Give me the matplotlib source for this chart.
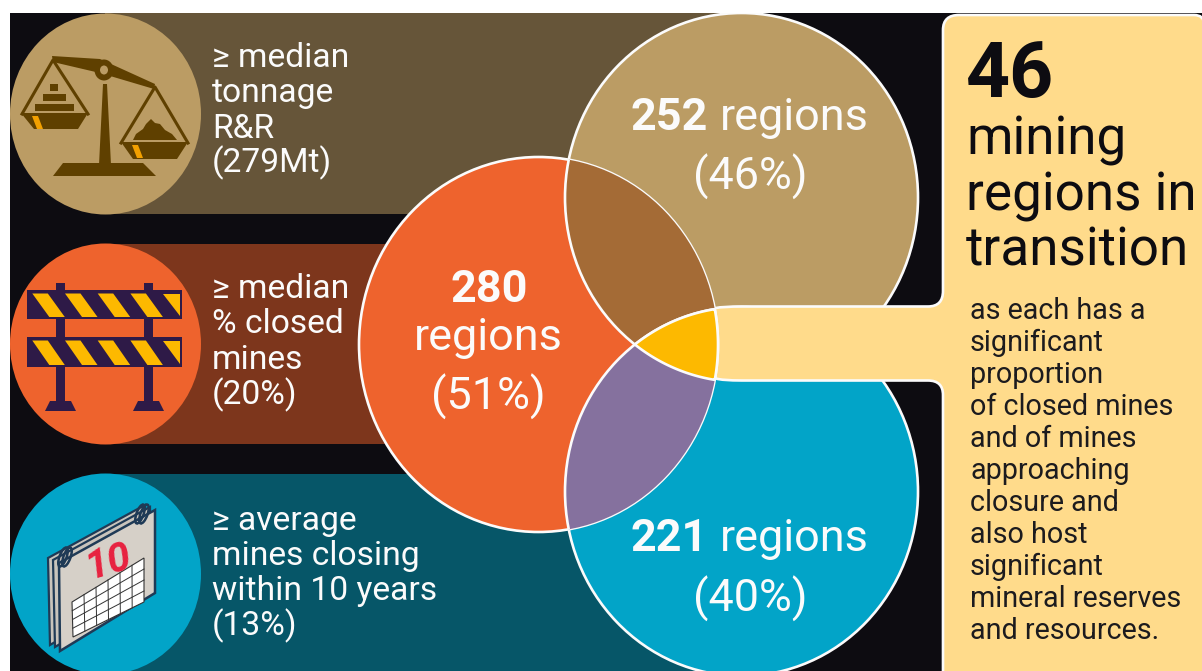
import numpy as np
import matplotlib
matplotlib.use("Agg")
import matplotlib.pyplot as plt
from matplotlib.patches import Ellipse, Rectangle, Polygon, PathPatch
from matplotlib.path import Path

# ---- data ----
criteria = [["≥ median", "tonnage", "R&R", "(279Mt)"],
            ["≥ median", "% closed", "mines", "(20%)"],
            ["≥ average", "mines closing", "within 10 years", "(13%)"]]
region_counts = [252, 280, 221]
region_shares = [46, 51, 40]
transition_count = 46
headline = ["mining", "regions in", "transition"]
body = ["as each has a", "significant", "proportion", "of closed mines", "and of mines",
        "approaching", "closure and", "also host", "significant", "mineral reserves",
        "and resources."]

# ---- colours ----
BLACK = "#0d0c11"; TAN = "#bb9c64"; ORANGE = "#ee632d"; BLUE = "#02a4c8"
D_TAN = "#665539"; D_ORANGE = "#7d361c"; D_BLUE = "#065668"
BROWN = "#a46b36"; PURPLE = "#85719e"; YELLOW = "#fdb900"; CREAM = "#ffdb8b"
ICON1 = "#5f4000"; ICON2 = "#2e1a47"; CAL = "#1f3a56"; WHITE = "#fbfbfb"

plt.rcParams["font.family"] = ["Roboto", "DejaVu Sans"]
fig = plt.figure(figsize=(12.02, 6.71), dpi=100, facecolor="white")
ax = fig.add_axes([0, 0, 1, 1])
ax.set_xlim(0, 1202); ax.set_ylim(671, 0); ax.axis("off")
PT = 0.72

ax.add_patch(Rectangle((10, 13), 1192, 658, fc=BLACK, ec="none", zorder=0))
for y0, h, x1, c in [(13, 201, 741, D_TAN), (244, 200, 538, D_ORANGE), (474, 200, 741, D_BLUE)]:
    ax.add_patch(Rectangle((105, y0), x1 - 105, h, fc=c, ec="none", zorder=1))
for cy, c in [(114, TAN), (344, ORANGE), (574, BLUE)]:
    ax.add_patch(Ellipse((105.5, cy), 191, 201, fc=c, ec="none", zorder=2))

# ---- icon: scale ----
def poly(pts, c, z=3, **k):
    ax.add_patch(Polygon(pts, closed=True, fc=c, ec=k.get("ec", "none"), lw=k.get("lw", 0), zorder=z))

poly([(52, 56), (100, 59), (155, 84), (154, 89), (100, 73), (53, 62)], ICON1)
ax.add_patch(Ellipse((104, 70), 19, 21, fc=ICON1, ec="none", zorder=3))
ax.add_patch(Ellipse((104, 70), 8, 9, fc=TAN, ec="none", zorder=4))
poly([(103, 84), (107, 84), (111, 165), (99, 165)], ICON1)
poly([(63, 163), (143, 163), (156, 176), (53, 176)], ICON1)
for apex, l, r in [((53, 60), (22, 114), (88, 114)), ((155, 87), (121, 143), (188, 143))]:
    ax.plot([l[0], apex[0], r[0]], [l[1], apex[1], r[1]], color=ICON1, lw=2.2, zorder=3)
poly([(21, 113), (88, 113), (78, 129), (34, 129)], ICON1)
poly([(121, 142), (188, 142), (177, 159), (133, 159)], ICON1)
for x0, y0, w, h in [(50, 84, 8, 7), (43, 94, 23, 7), (35, 104, 39, 7)]:
    ax.add_patch(Rectangle((x0, y0), w, h, fc=ICON1, ec="none", zorder=3))
poly([(133, 140), (136, 134), (143, 129), (146, 124), (151, 119), (155, 123), (160, 124),
      (165, 130), (172, 134), (177, 140)], ICON1)
poly([(32, 116), (38, 116), (43, 129), (37, 129)], "#f2a000", 4)
poly([(132, 145), (138, 145), (143, 158), (137, 158)], "#f2a000", 4)

# ---- icon: barrier ----
for x0 in (56, 144):
    ax.add_patch(Rectangle((x0, 283), 9, 120, fc=ICON2, ec="none", zorder=3))
for x0 in (45, 133):
    poly([(x0 + 5, 401), (x0 + 26, 401), (x0 + 31, 411), (x0, 411)], ICON2)
for top, bot in [(290, 319), (337, 367)]:
    ax.add_patch(Rectangle((27, top), 155, bot - top, fc=ICON2, ec="none", zorder=3))
    yt, yb = top + 3.5, bot - 2
    for i in range(4):
        s = 32.3 + i * 32.7
        poly([(s, yt), (s + 15.5, yt), (s + 32.5, yb), (s + 17, yb)], YELLOW, 4)
    poly([(163, yt), (180, yt), (180, yb - 1)], YELLOW, 4)

# ---- icon: calendar ----
for dx, dy in [(-10, -5), (-5, -3)]:
    poly([(58 + dx, 563 + dy), (155 + dx, 510 + dy), (155 + dx, 593 + dy), (60 + dx, 650 + dy)],
         "#c9c4bc", 3, ec=CAL, lw=1.6)
poly([(59, 563), (155, 510), (155, 593), (60, 651)], "#d6d0c8", 3, ec=CAL, lw=1.8)
g = np.array([[72, 602], [144, 558], [144, 602], [73, 637]], float)
poly(g, "white", 4, ec="#333333", lw=0.8)
for i in range(1, 6):
    t = i / 6
    a = g[0] + t * (g[1] - g[0]); b = g[3] + t * (g[2] - g[3])
    ax.plot([a[0], b[0]], [a[1], b[1]], color="#333333", lw=0.7, zorder=5)
for i in range(1, 4):
    t = i / 4
    a = g[0] + t * (g[3] - g[0]); b = g[1] + t * (g[2] - g[1])
    ax.plot([a[0], b[0]], [a[1], b[1]], color="#333333", lw=0.7, zorder=5)
for cx, cy in [(65, 557), (142, 514)]:
    for off in (0, 4):
        ax.add_patch(Ellipse((cx + off - 2, cy), 7, 20, angle=20, fc="none", ec=CAL, lw=1.8, zorder=6))
ax.text(108, 579, "10", color="#e8213f", fontsize=37 * PT * 1.12, fontweight="bold", style="italic",
        ha="center", va="baseline", rotation=16, zorder=6)

# ---- Venn ----
C_ORG = ((538.5, 344.5), 179.5, 187.5)
C_TOP = ((741.5, 197.5), 176.5, 184.5)
C_BOT = ((741.5, 491.5), 176.5, 184.5)

def ell(c, **k):
    return Ellipse(c[0], 2 * c[1], 2 * c[2], **k)

LW = 1.9
ax.add_patch(ell(C_TOP, fc=TAN, ec=WHITE, lw=LW, zorder=6))
ax.add_patch(ell(C_BOT, fc=BLUE, ec=WHITE, lw=LW, zorder=6))

# callout
verts = [(700, 308), (716, 308), (722, 306.5), (742, 306.5), (928, 306.5), (943, 306.5), (943, 291),
         (943, 30), (943, 15), (959, 15), (1194, 15), (1204, 15), (1204, 24), (1204, 690), (943, 690),
         (943, 395), (943, 380.5), (928, 380.5), (742, 380.5), (722, 380.5), (716, 378.5), (700, 378.5), (700, 308)]
codes = [Path.MOVETO, Path.LINETO, Path.CURVE3, Path.CURVE3, Path.LINETO, Path.CURVE3, Path.CURVE3,
         Path.LINETO, Path.CURVE3, Path.CURVE3, Path.LINETO, Path.CURVE3, Path.CURVE3, Path.LINETO, Path.LINETO,
         Path.LINETO, Path.CURVE3, Path.CURVE3, Path.LINETO, Path.CURVE3, Path.CURVE3, Path.LINETO, Path.CLOSEPOLY]
ax.add_patch(PathPatch(Path(verts, codes), fc=CREAM, ec=WHITE, lw=LW, zorder=7))

org = ell(C_ORG, fc=ORANGE, ec=WHITE, lw=LW, zorder=8)
ax.add_patch(org)
clip = ell(C_ORG, fc="none", ec="none", transform=ax.transData)
ax.add_patch(clip)
for c, col in [(C_TOP, BROWN), (C_BOT, PURPLE)]:
    p = ell(c, fc=col, ec=WHITE, lw=LW, zorder=9)
    ax.add_patch(p)
    p.set_clip_path(clip)

# three-way overlap as the intersection outline of the three ellipses
def boundary(c, n=1500):
    t = np.linspace(0, 2 * np.pi, n, endpoint=False)
    return np.c_[c[0][0] + c[1] * np.cos(t), c[0][1] + c[2] * np.sin(t)]

def inside(p, c):
    return ((p[:, 0] - c[0][0]) / c[1]) ** 2 + ((p[:, 1] - c[0][1]) / c[2]) ** 2 <= 1

cs = [C_ORG, C_TOP, C_BOT]
pts = []
for i, c in enumerate(cs):
    b = boundary(c)
    m = np.ones(len(b), bool)
    for j, o in enumerate(cs):
        if j != i:
            m &= inside(b, o)
    pts.append(b[m])
pts = np.vstack(pts)
ctr = pts.mean(axis=0)
pts = pts[np.argsort(np.arctan2(pts[:, 1] - ctr[1], pts[:, 0] - ctr[0]))]
ax.add_patch(Polygon(pts, closed=True, fc=YELLOW, ec=WHITE, lw=LW, zorder=10))
# white page margins
ax.add_patch(Rectangle((0, 0), 10, 671, fc="white", ec="none", zorder=11))
ax.add_patch(Rectangle((0, 0), 1202, 13, fc="white", ec="none", zorder=11))

# ---- text ----
def T(x, y, s, size, color=WHITE, weight="normal", ha="left"):
    ax.text(x, y, s, fontsize=size * PT, color=color, fontweight=weight, ha=ha, va="baseline", zorder=12)

for lines, base in zip(criteria, [[67, 102, 138, 172], [298, 333, 369, 404], [530, 565, 600, 635]]):
    for s, y in zip(lines, base):
        T(212, y, s, 33.6)

V = 45
T(631, 130, str(region_counts[0]), V, weight="bold")
T(720, 130, "regions", V)
T(750, 190, f"({region_shares[0]}%)", V, ha="center")
T(489, 302, str(region_counts[1]), V, weight="bold", ha="center")
T(488, 350, "regions", V, ha="center")
T(488, 410, f"({region_shares[1]}%)", V, ha="center")
T(631, 551, str(region_counts[2]), V, weight="bold")
T(720, 551, "regions", V)
T(750, 612, f"({region_shares[2]}%)", V, ha="center")

T(966, 97, str(transition_count), 77, color=BLACK, weight="bold")
for s, y in zip(headline, [155, 210, 265]):
    T(966, y, s, 53, color=BLACK)
for i, s in enumerate(body):
    T(970, 319 + i * 32, s, 28.7, color="#1c1b1e")

fig.savefig("out.png", dpi=100)
